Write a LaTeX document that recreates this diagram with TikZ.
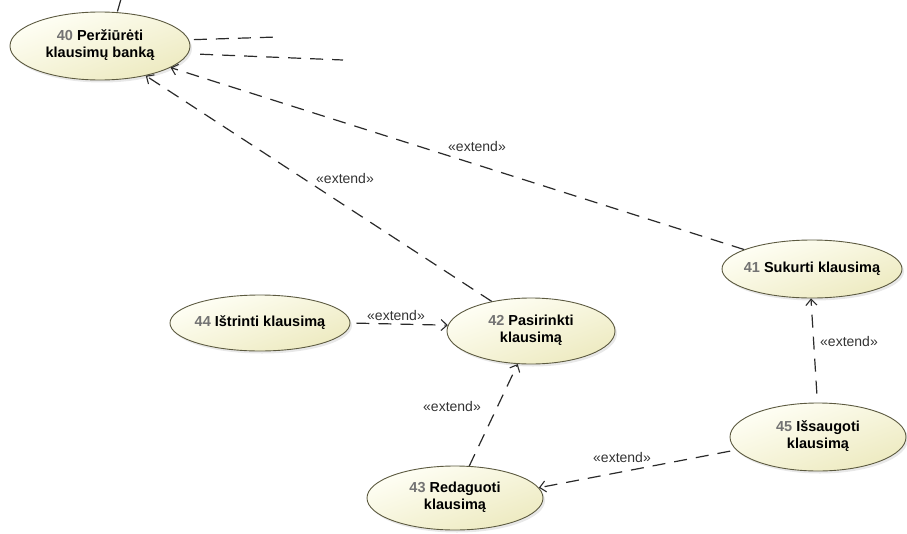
\documentclass[tikz,border=0pt]{standalone}
\usepackage{fontspec}
\setmainfont{Liberation Sans}
\usetikzlibrary{shapes.geometric,arrows.meta,shadows}

\definecolor{ucline}{HTML}{5C5A40}
\definecolor{uctop}{HTML}{FFFFF6}
\definecolor{ucbot}{HTML}{EDEAC0}
\definecolor{numgray}{HTML}{737373}
\definecolor{extcol}{HTML}{2A2A2A}
\definecolor{lblcol}{HTML}{333333}

% use case label: grey number, bold name, one or two centred lines
\newcommand\ucnum[1]{{\color{numgray}#1}}
\newcommand\uctext[1]{\makebox[0pt]{\begin{tabular}{@{}c@{}}#1\end{tabular}}}

\begin{document}
\begin{tikzpicture}[x=1pt,y=-1pt,
  usecase/.style={ellipse, draw=ucline, line width=0.9pt,
    top color=uctop, bottom color=ucbot, shading angle=20,
    inner sep=0pt, font=\fontsize{14.5}{17}\selectfont\bfseries,
    drop shadow={shadow xshift=2pt, shadow yshift=-2.5pt, opacity=0.18}},
  extline/.style={draw=extcol, line width=1.2pt, dash pattern=on 13pt off 9pt},
  extarrow/.style={extline, -{Straight Barb[length=6pt,width=11pt,line width=1.1pt]}},
  lbl/.style={font=\fontsize{14}{16}\selectfont, text=lblcol, inner sep=0pt}]

\useasboundingbox (0,0) rectangle (907,533);

% use cases
\node[usecase, minimum width=180pt, minimum height=68pt] (n40) at (100,46)
  {\uctext{\ucnum{40} Peržiūrėti\\klausimų banką}};
\node[usecase, minimum width=180pt, minimum height=58pt] (n41) at (812,269)
  {\uctext{\ucnum{41} Sukurti klausimą}};
\node[usecase, minimum width=168pt, minimum height=66pt] (n42) at (531,331)
  {\uctext{\ucnum{42} Pasirinkti\\klausimą}};
\node[usecase, minimum width=180pt, minimum height=56pt] (n44) at (260,323)
  {\uctext{\ucnum{44} Ištrinti klausimą}};
\node[usecase, minimum width=176pt, minimum height=64pt] (n43) at (455,498)
  {\uctext{\ucnum{43} Redaguoti\\klausimą}};
\node[usecase, minimum width=176pt, minimum height=68pt] (n45) at (818,437)
  {\uctext{\ucnum{45} Išsaugoti\\klausimą}};

% connectors leaving the visible area
\coordinate (up40) at (121,-1);
\coordinate (out1) at (277,37);
\coordinate (out2) at (343,60);
\draw[extline] (up40) -- (n40.63);
\draw[extline, shorten <=5pt] (n40.4) -- (out1);
\draw[extline, shorten <=12pt] (n40.-5) -- (out2);

% extend relations
\draw[extarrow] (n41.164) -- (n40.-17);
\draw[extarrow] (n42.143) -- (n40.-33);
\draw[extarrow, shorten <=6pt] (n44.0) -- (n42.176);
\draw[extarrow] (n43.66) -- (n42.248);
\draw[extarrow, shorten <=9pt] (n45.91) -- (n41.268);
\draw[extarrow, shorten <=6pt] (n45.189) -- (n43.7);

% stereotype labels
\node[lbl] (e1) at (477,146) {«extend»};
\node[lbl] (e2) at (345,178) {«extend»};
\node[lbl] (e3) at (396,315) {«extend»};
\node[lbl] (e4) at (452,406) {«extend»};
\node[lbl] (e5) at (849,341) {«extend»};
\node[lbl] (e6) at (622,457) {«extend»};
\end{tikzpicture}
\end{document}
